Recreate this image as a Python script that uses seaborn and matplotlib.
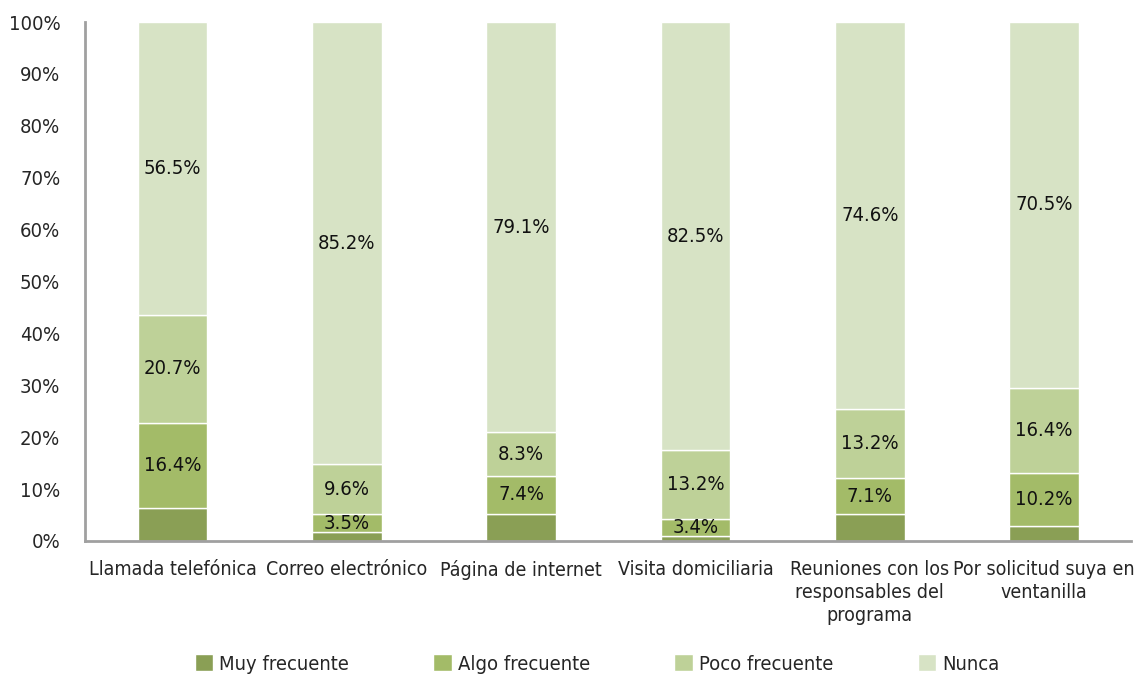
import numpy as np
import pandas as pd
import matplotlib.pyplot as plt
import seaborn as sns
from matplotlib.patches import Patch

sns.set_style("white")
plt.rcParams['font.family'] = ['DejaVu Sans']
plt.rcParams['font.stretch'] = 'condensed'

categories = ["Llamada telefónica", "Correo electrónico", "Página de internet",
              "Visita domiciliaria", "Reuniones con los\nresponsables del\nprograma",
              "Por solicitud suya en\nventanilla"]
series = ["Muy frecuente", "Algo frecuente", "Poco frecuente", "Nunca"]
muy = [6.4, 1.7, 5.2, 0.9, 5.1, 2.9]
algo = [16.4, 3.5, 7.4, 3.4, 7.1, 10.2]
poco = [20.7, 9.6, 8.3, 13.2, 13.2, 16.4]
nunca = [56.5, 85.2, 79.1, 82.5, 74.6, 70.5]
colors = ["#8a9f55", "#a3bb68", "#bed198", "#d7e3c5"]

values = [muy, algo, poco, nunca]

fig = plt.figure(figsize=(11.37, 6.77), dpi=100)
ax = fig.add_axes([0.075, 0.201, 0.92, 0.7665])

bottom = np.zeros(len(categories))
for name, vals, col in zip(series, values, colors):
    df = pd.DataFrame({"cat": categories, "val": vals})
    sns.barplot(data=df, x="cat", y="val", color=col, bottom=bottom, width=0.4,
                saturation=1, edgecolor="white", linewidth=1, ax=ax)
    if name != "Muy frecuente":
        for i, v in enumerate(vals):
            ax.text(i, bottom[i] + v / 2, f"{v:.1f}%", ha="center", va="center",
                    fontsize=14.5, color="#111111")
    bottom = bottom + np.array(vals)

ax.set_ylim(0, 100)
ax.set_xlim(-0.5, len(categories) - 0.5)
ax.set_yticks(range(0, 101, 10))
ax.set_yticklabels([f"{t}%" for t in range(0, 101, 10)], fontsize=14.5)
ax.tick_params(axis="x", labelsize=14, length=0, pad=14)
ax.tick_params(axis="y", length=0, pad=18)
for lbl in ax.get_xticklabels():
    lbl.set_linespacing(1.25)
ax.set_xlabel("")
ax.set_ylabel("")
for s in ["top", "right"]:
    ax.spines[s].set_visible(False)
for s in ["left", "bottom"]:
    ax.spines[s].set_color("#a0a0a0")
    ax.spines[s].set_linewidth(2)

handles = [Patch(facecolor=c, label=n) for n, c in zip(series, colors)]
fig.legend(handles=handles, loc="lower center", ncol=4, frameon=False,
           fontsize=14.5, bbox_to_anchor=(0.525, -0.022), columnspacing=4.2,
           handlelength=0.9, handleheight=0.9, handletextpad=0.3)

fig.savefig("out.png", dpi=100)
